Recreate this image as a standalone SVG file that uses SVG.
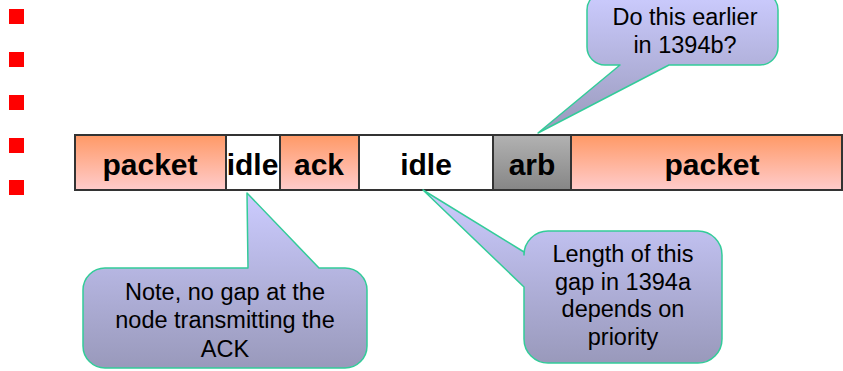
<svg xmlns="http://www.w3.org/2000/svg" width="843" height="371" viewBox="0 0 843 371">
  <defs>
    <linearGradient id="gPacket" x1="0" y1="0" x2="0" y2="1">
      <stop offset="0" stop-color="#ff9966"/>
      <stop offset="1" stop-color="#ffcccc"/>
    </linearGradient>
    <linearGradient id="gArb" x1="0" y1="0" x2="0" y2="1">
      <stop offset="0" stop-color="#b2b2b2"/>
      <stop offset="1" stop-color="#868686"/>
    </linearGradient>
    <linearGradient id="gNote" x1="0" y1="0" x2="0" y2="1">
      <stop offset="0" stop-color="#ccccff"/>
      <stop offset="1" stop-color="#9999bb"/>
    </linearGradient>
    <style>
      .bullet { fill: #ff0000; }
      .seg { stroke: #333333; stroke-width: 2; }
      .packet { fill: url(#gPacket); }
      .idle { fill: #ffffff; }
      .arb { fill: url(#gArb); }
      .lbl { font-family: "Liberation Sans", Arial, sans-serif; font-weight: bold; font-size: 30px; fill: #000; text-anchor: middle; }
      .note { fill: url(#gNote); stroke: #33cc99; stroke-width: 1.5; stroke-linejoin: round; }
      .ntxt { font-family: "Liberation Sans", Arial, sans-serif; font-size: 23.5px; fill: #000; text-anchor: middle; }
    </style>
  </defs>

  <!-- bullet markers -->
  <g id="bullets">
    <rect class="bullet" x="9" y="9" width="15" height="15"/>
    <rect class="bullet" x="9" y="52" width="15" height="15"/>
    <rect class="bullet" x="9" y="95" width="15" height="15"/>
    <rect class="bullet" x="9" y="138" width="15" height="15"/>
    <rect class="bullet" x="9" y="180" width="15" height="15"/>
  </g>

  <!-- timeline of bus activity -->
  <g id="seg-packet1">
    <rect class="seg packet" x="75" y="135" width="151" height="55"/>
    <text class="lbl" x="150" y="175">packet</text>
  </g>
  <g id="seg-idle1">
    <rect class="seg idle" x="226" y="135" width="54" height="55"/>
    <text class="lbl" x="252.5" y="175">idle</text>
  </g>
  <g id="seg-ack">
    <rect class="seg packet" x="280" y="135" width="79" height="55"/>
    <text class="lbl" x="319" y="175">ack</text>
  </g>
  <g id="seg-idle2">
    <rect class="seg idle" x="359" y="135" width="134" height="55"/>
    <text class="lbl" x="426" y="175">idle</text>
  </g>
  <g id="seg-arb">
    <rect class="seg arb" x="493" y="135" width="78" height="55"/>
    <text class="lbl" x="532" y="175">arb</text>
  </g>
  <g id="seg-packet2">
    <rect class="seg packet" x="571" y="135" width="271" height="55"/>
    <text class="lbl" x="712" y="175">packet</text>
  </g>

  <!-- callouts -->
  <g id="callout-1394b">
    <path class="note" d="M605,-8 H760 A18,18 0 0 1 778,10 V47 A18,18 0 0 1 760,65 H669 L538,133 L620,65 H605 A18,18 0 0 1 587,47 V10 A18,18 0 0 1 605,-8 Z"/>
    <text class="ntxt" x="685" y="25">Do this earlier</text>
    <text class="ntxt" x="685" y="53">in 1394b?</text>
  </g>
  <g id="callout-ack">
    <path class="note" d="M105,268 H248 L247,193 L319,268 H345 A22,22 0 0 1 367,290 V346 A22,22 0 0 1 345,368 H105 A22,22 0 0 1 83,346 V290 A22,22 0 0 1 105,268 Z"/>
    <text class="ntxt" x="225" y="300">Note, no gap at the</text>
    <text class="ntxt" x="225" y="328">node transmitting the</text>
    <text class="ntxt" x="225" y="357">ACK</text>
  </g>
  <g id="callout-1394a">
    <path class="note" d="M548,231 H698 A24,24 0 0 1 722,255 V339 A24,24 0 0 1 698,363 H548 A24,24 0 0 1 524,339 V287 L423,190 L524,252 V255 A24,24 0 0 1 548,231 Z"/>
    <text class="ntxt" x="623" y="262">Length of this</text>
    <text class="ntxt" x="623" y="290">gap in 1394a</text>
    <text class="ntxt" x="623" y="317">depends on</text>
    <text class="ntxt" x="623" y="345">priority</text>
  </g>
</svg>
